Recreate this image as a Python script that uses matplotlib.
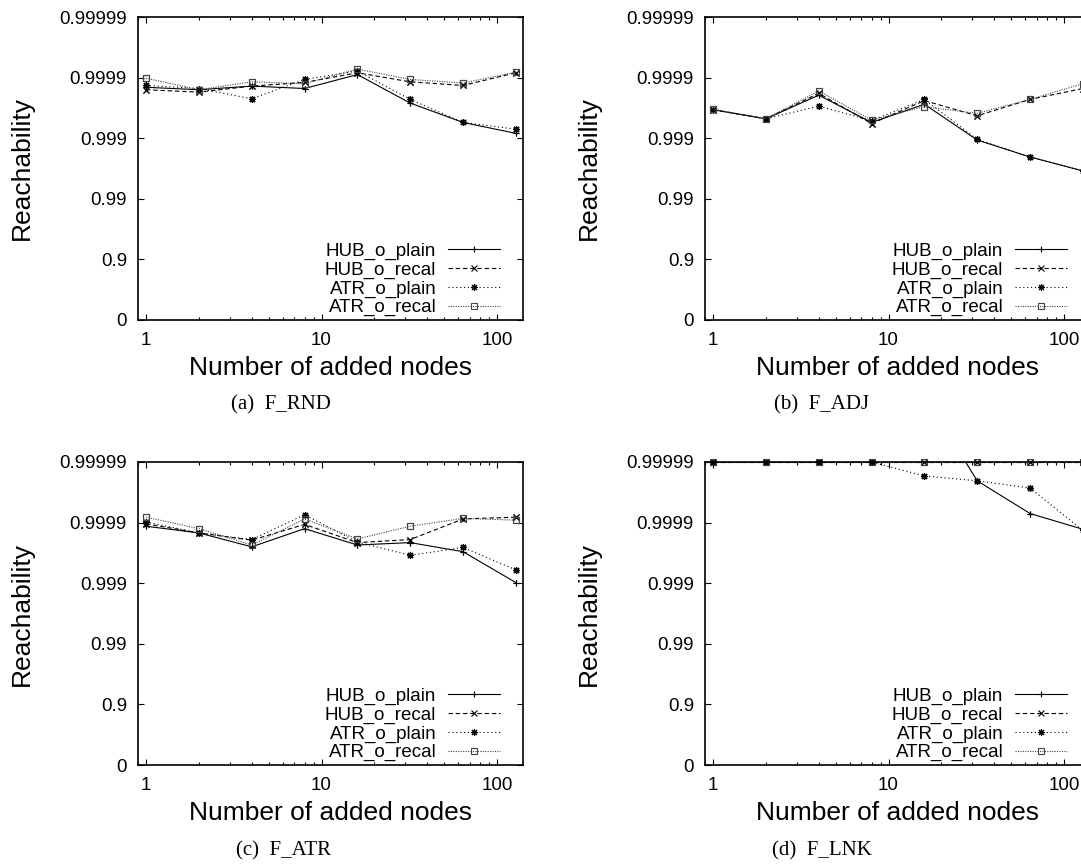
import numpy as np
import matplotlib
matplotlib.use('Agg')
import matplotlib.pyplot as plt
from matplotlib.ticker import LogLocator, NullFormatter

plt.rcParams['font.family'] = 'Liberation Sans'

# x: number of added nodes
nodes = [1, 2, 4, 8, 16, 32, 64, 128]

# y values are in "nines" = -log10(1 - reachability)
# (a) F_RND
rnd_hub_plain = [3.84, 3.80, 3.86, 3.82, 4.05, 3.58, 3.26, 3.08]
rnd_hub_recal = [3.80, 3.76, 3.86, 3.92, 4.08, 3.93, 3.87, 4.08]
rnd_atr_plain = [3.87, 3.82, 3.65, 3.97, 4.11, 3.64, 3.26, 3.15]
rnd_atr_recal = [3.99, 3.80, 3.93, 3.90, 4.14, 3.97, 3.91, 4.09]
# (b) F_ADJ
adj_hub_plain = [3.47, 3.32, 3.71, 3.26, 3.56, 2.97, 2.69, 2.46]
adj_hub_recal = [3.47, 3.32, 3.74, 3.24, 3.62, 3.37, 3.64, 3.82]
adj_atr_plain = [3.47, 3.32, 3.53, 3.29, 3.64, 2.98, 2.69, 2.46]
adj_atr_recal = [3.48, 3.32, 3.78, 3.30, 3.52, 3.41, 3.64, 3.90]
# (c) F_ATR
atr_hub_plain = [3.94, 3.83, 3.60, 3.90, 3.63, 3.67, 3.52, 3.01]
atr_hub_recal = [3.98, 3.83, 3.71, 3.97, 3.67, 3.72, 4.06, 4.09]
atr_atr_plain = [4.01, 3.83, 3.72, 4.13, 3.68, 3.46, 3.59, 3.22]
atr_atr_recal = [4.09, 3.90, 3.63, 4.06, 3.73, 3.94, 4.07, 4.04]
# (d) F_LNK (5 = top of the axis, above it is off the chart)
lnk_hub_plain = [5.0, 5.0, 5.0, 5.0, 6.1, 4.69, 4.15, 3.89]
lnk_hub_recal = [5.0, 5.0, 5.0, 5.0, 5.0, 5.0, 5.0, 5.0]
lnk_atr_plain = [5.0, 5.0, 5.0, 5.0, 4.77, 4.69, 4.57, 3.87]
lnk_atr_recal = [5.0, 5.0, 5.0, 5.0, 5.0, 5.0, 5.0, 5.0]

series_names = ['HUB_o_plain', 'HUB_o_recal', 'ATR_o_plain', 'ATR_o_recal']
ytick_labels = ['0', '0.9', '0.99', '0.999', '0.9999', '0.99999']
captions = ['(a)  F_RND', '(b)  F_ADJ', '(c)  F_ATR', '(d)  F_LNK']

styles = [
    dict(color='k', ls='-', marker='+'),
    dict(color='k', dashes=(4, 2.5), marker='x'),
    dict(color='k', dashes=(1, 2.5), marker=(8, 2, 0)),
    dict(color='#444444', dashes=(1, 1.2), marker='s'),
]


def draw_panel(ax, data):
    for name, vals, st in zip(series_names, data, styles):
        vals = np.array(vals, dtype=float)
        ax.plot(nodes, vals, lw=0.8, ms=5, mew=0.8, mfc='none',
                label=name, **st)
        # markers sitting on the top border are drawn unclipped
        inside = np.where(vals <= 5.0, vals, np.nan)
        ax.plot(nodes, inside, ls='none', marker=st['marker'], color=st['color'],
                ms=5, mew=0.8, mfc='none', clip_on=False)

    ax.set_xscale('log')
    ax.set_xlim(0.9, 140)
    ax.set_ylim(0, 5)
    ax.set_xticks([1, 10, 100], ['1', '10', '100'])
    ax.xaxis.set_minor_locator(LogLocator(base=10, subs=np.arange(2, 10)))
    ax.xaxis.set_minor_formatter(NullFormatter())
    ax.set_yticks(range(6), ytick_labels)
    ax.tick_params(which='both', direction='in', top=True, right=True,
                   labelsize=13.5, width=0.8)
    ax.tick_params(which='major', length=4)
    ax.tick_params(which='minor', length=2.2)
    ax.tick_params(axis='x', pad=8.5)
    ax.tick_params(axis='y', pad=8)
    for s in ax.spines.values():
        s.set_linewidth(1.2)
    ax.set_xlabel('Number of added nodes', fontsize=19, labelpad=5)
    ax.set_ylabel('Reachability', fontsize=19, labelpad=18)
    ax.legend(loc='lower right', bbox_to_anchor=(0.941, 0.012), frameon=False,
              markerfirst=False, fontsize=13.5, labelspacing=0.08,
              handlelength=2.8, handletextpad=0.6, borderpad=0, borderaxespad=0,
              numpoints=1)


fig = plt.figure(figsize=(10.81, 8.65), dpi=100)
W, H = 1081, 865
ax_w, ax_h = 384.7 / W, 303 / H
positions = [(138 / W, 1 - 320 / H), (705 / W, 1 - 320 / H),
             (138 / W, 1 - 765 / H), (705 / W, 1 - 765 / H)]
panels = [
    [rnd_hub_plain, rnd_hub_recal, rnd_atr_plain, rnd_atr_recal],
    [adj_hub_plain, adj_hub_recal, adj_atr_plain, adj_atr_recal],
    [atr_hub_plain, atr_hub_recal, atr_atr_plain, atr_atr_recal],
    [lnk_hub_plain, lnk_hub_recal, lnk_atr_plain, lnk_atr_recal],
]
caption_xy = [(281, 405), (822, 405), (284, 851), (822, 851)]

for pos, data, cap, cxy in zip(positions, panels, captions, caption_xy):
    ax = fig.add_axes([pos[0], pos[1], ax_w, ax_h])
    draw_panel(ax, data)
    fig.text(cxy[0] / W, 1 - cxy[1] / H, cap, ha='center', va='center',
             family='Liberation Serif', fontsize=15)

fig.savefig('out.png', dpi=100)
